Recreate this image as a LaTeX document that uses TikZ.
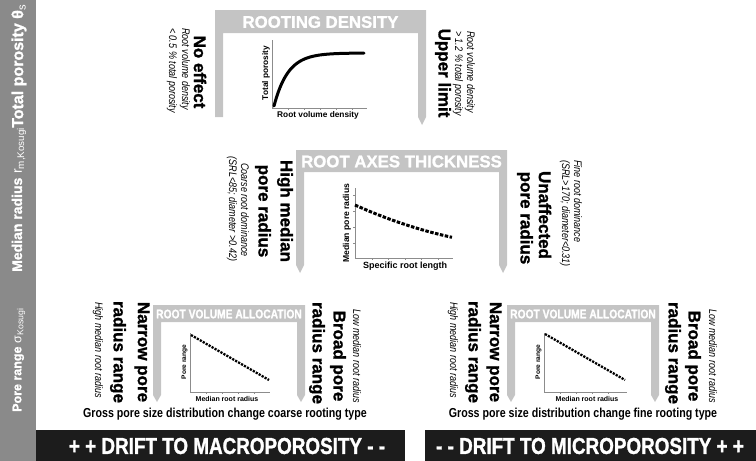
\documentclass[tikz,border=0pt]{standalone}
\usepackage{fontspec}
\setmainfont{Liberation Sans}
\newfontfamily\narrowf[FakeStretch=0.82]{Liberation Sans}
\newfontfamily\heavyf[BoldFeatures={FakeBold=1.3}]{Liberation Sans}
\newfontfamily\heavynarrowf[FakeStretch=0.82,BoldFeatures={FakeBold=1.3}]{Liberation Sans}
\definecolor{sidegray}{HTML}{8A8A8A}
\definecolor{boxgray}{HTML}{C4C4C4}
\definecolor{barblack}{HTML}{1C1C1C}
\definecolor{axisgray}{HTML}{8C8C8C}
\tikzset{
  sidelab/.style={text=white, rotate=90, anchor=west, inner sep=0pt},
  bigbf/.style={font=\heavyf\bfseries\fontsize{17}{17}\selectfont, rotate=-90, inner sep=0pt},
  note/.style={font=\narrowf\itshape\fontsize{11}{11}\selectfont, rotate=-90, inner sep=0pt},
  boxtitle/.style={text=white, font=\heavyf\bfseries\fontsize{16.8}{17}\selectfont, inner sep=0pt},
  smalltitle/.style={text=white, font=\heavynarrowf\bfseries\fontsize{12.5}{12.5}\selectfont, inner sep=0pt},
  axlab/.style={font=\bfseries\fontsize{8.3}{8.3}\selectfont, inner sep=0pt},
  axline/.style={draw=axisgray, line width=0.6pt},
  boxshape/.style={fill=boxgray},
  grosslab/.style={font=\narrowf\bfseries\fontsize{13}{13}\selectfont, inner sep=0pt},
  drift/.style={text=white, font=\heavynarrowf\bfseries\fontsize{23}{23}\selectfont, inner sep=0pt},
}
\begin{document}
\begin{tikzpicture}[x=1pt, y=-1pt]
\useasboundingbox (0,0) rectangle (756,461);
% left side bar
\fill[sidegray] (0,0) rectangle (36,461);
\node[sidelab, font=\heavyf\bfseries\fontsize{16}{16}\selectfont] (lab1) at (19,128) {Total porosity θ\textsubscript{\mdseries s}};
\node[sidelab, font=\heavyf\bfseries\fontsize{14}{14}\selectfont] (lab2) at (19,272) {Median radius {\mdseries r}\textsubscript{\mdseries m,Kosugi}};
\node[sidelab, font=\heavyf\bfseries\fontsize{12.5}{12.5}\selectfont] (lab3) at (19,412) {Pore range {\mdseries σ}\textsubscript{\mdseries Kosugi}};

% ---------- top box: rooting density
\fill[boxshape] (215,10) -- (426,10) -- (426,117) -- (422,125) -- (418,117) -- (418,33) -- (223,33) -- (223,117) -- (215,117) -- cycle;
\node[boxtitle] (t1) at (320.5,22) {ROOTING DENSITY};
\draw[axline] (272,40) -- (272,108) -- (367,108);
\foreach \t in {288,304,320,336,352} \draw[axline] (\t,108) -- (\t,110);
\draw[line width=3pt, line cap=round] plot[domain=274:364, samples=60] (\x,{53+53*exp(-(\x-274)/14)});
\node[axlab, rotate=90] (y1) at (266,73) {Total porosity};
\node[axlab] (x1) at (318,115.5) {Root volume density};
\node[bigbf] (noeff) at (200,72) {No effect};
\node[note, anchor=west] (n1a) at (185,28) {Root volume density};
\node[note, anchor=west] (n1b) at (172,28) {< 0.5 \% total porosity};
\node[bigbf] (upper) at (443,73) {Upper limit};
\node[note, anchor=west] (n2a) at (470,31) {Root volume density};
\node[note, anchor=west] (n2b) at (458,31) {> 1.2 \% total porosity};

% ---------- middle box: root axes thickness
\fill[boxshape] (296,150) -- (507,150) -- (507,265) -- (503,273) -- (499,265) -- (499,172) -- (304,172) -- (304,265) -- (300,273) -- (296,265) -- cycle;
\node[boxtitle] (t2) at (401.5,161.5) {ROOT AXES THICKNESS};
\draw[axline] (355,188) -- (355,258) -- (453,258);
\foreach \t in {372,388,405,421,438} \draw[axline] (\t,258) -- (\t,260);
\foreach \t in {195,211,227,243} \draw[axline] (353,\t) -- (355,\t);
\draw[line width=3pt, dash pattern=on 3.5pt off 1.5pt] plot[domain=0:97, samples=40] ({355+\x},{205+0.45*\x-0.0012*\x*\x});
\node[axlab, font=\bfseries\fontsize{8.6}{8.6}\selectfont, rotate=90] (y2) at (347,223) {Median pore radius};
\node[axlab, font=\bfseries\fontsize{9}{9}\selectfont] (x2) at (405,266) {Specific root length};
\node[bigbf] (hm1) at (285,211) {High median};
\node[bigbf] (hm2) at (263,211) {pore radius};
\node[note] (c1) at (245,210) {Coarse root dominance};
\node[note] (c2) at (232,209) {(SRL<85; diameter >0.42)};
\node[bigbf] (un1) at (545,215) {Unaffected};
\node[bigbf] (un2) at (525,218) {pore radius};
\node[note, anchor=west] (f1) at (578,160) {Fine root dominance};
\node[note, anchor=west] (f2) at (565,160) {(SRL>170; diameter<0.31)};

% ---------- bottom-left box
\fill[boxshape] (153,305) -- (305,305) -- (305,395) -- (301,402) -- (297,395) -- (297,322) -- (161,322) -- (161,395) -- (157,402) -- (153,395) -- cycle;
\node[smalltitle] (t3) at (229,314) {ROOT VOLUME ALLOCATION};
\draw[axline] (190,333) -- (190,392) -- (270,392);
\foreach \t in {206,222,238,254} \draw[axline] (\t,392) -- (\t,394);
\draw[line width=2.3pt, dash pattern=on 2.2pt off 1.2pt] (191,335) -- (269,380);
\node[axlab, font=\bfseries\fontsize{6.6}{6.6}\selectfont, rotate=90] (y3) at (184.5,362) {Pore range};
\node[axlab, font=\bfseries\fontsize{7}{7}\selectfont] (x3) at (227,399) {Median root radius};
\node[bigbf] (nl1) at (142,352) {Narrow pore};
\node[bigbf] (nl2) at (118,352) {radius range};
\node[note] (nl3) at (98,350) {High median root radius};
\node[bigbf] (bl1) at (317,353) {radius range};
\node[bigbf] (bl2) at (338,356) {Broad pore};
\node[note] (bl3) at (357,356) {Low median root radius};

% ---------- bottom-right box
\fill[boxshape] (507,305) -- (659,305) -- (659,395) -- (655,402) -- (651,395) -- (651,322) -- (515,322) -- (515,395) -- (511,402) -- (507,395) -- cycle;
\node[smalltitle] (t4) at (583,314) {ROOT VOLUME ALLOCATION};
\draw[axline] (544,333) -- (544,392) -- (627,392);
\foreach \t in {560,576,592,608} \draw[axline] (\t,392) -- (\t,394);
\draw[line width=2.3pt, dash pattern=on 2.2pt off 1.2pt] (545,334) -- (625,380);
\node[axlab, font=\bfseries\fontsize{6.6}{6.6}\selectfont, rotate=90] (y4) at (538.5,362) {Pore range};
\node[axlab, font=\bfseries\fontsize{7}{7}\selectfont] (x4) at (587,399) {Median root radius};
\node[bigbf] (nr1) at (494,352) {Narrow pore};
\node[bigbf] (nr2) at (473,352) {radius range};
\node[note] (nr3) at (453,350) {High median root radius};
\node[bigbf] (br1) at (673,353) {radius range};
\node[bigbf] (br2) at (693,356) {Broad pore};
\node[note] (br3) at (713,356) {Low median root radius};

% ---------- bottom
\node[grosslab] (g1) at (225,414) {Gross pore size distribution change coarse rooting type};
\node[grosslab] (g2) at (583,414) {Gross pore size distribution change fine rooting type};
\fill[barblack] (36,430) rectangle (405,461);
\fill[barblack] (425,430) rectangle (756,461);
\node[drift] (d1) at (227,446) {+ + DRIFT TO MACROPOROSITY - -};
\node[drift] (d2) at (590,446) {- - DRIFT TO MICROPOROSITY + +};
\end{tikzpicture}
\end{document}
